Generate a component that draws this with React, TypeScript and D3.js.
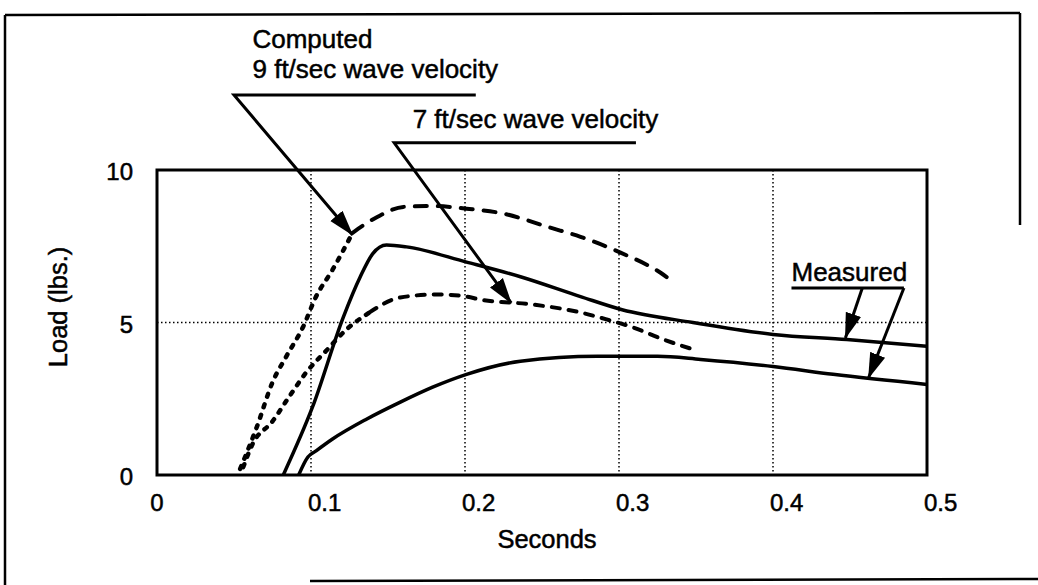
import React from "react";
import * as d3 from "d3";

// ---- data (seconds, load in lbs.) ----
const computed9T = [0.054, 0.065, 0.075, 0.084, 0.095, 0.103, 0.114, 0.127, 0.143, 0.16, 0.179, 0.201, 0.223, 0.256, 0.275, 0.301, 0.327, 0.335];
const computed9V = [0.2, 1.6, 3.04, 3.89, 4.87, 5.82, 6.73, 7.94, 8.46, 8.79, 8.82, 8.73, 8.59, 8.1, 7.81, 7.29, 6.63, 6.34];

const computed7T = [0.056, 0.062, 0.075, 0.086, 0.097, 0.11, 0.123, 0.138, 0.158, 0.182, 0.201, 0.21, 0.244, 0.275, 0.292, 0.309, 0.329, 0.348];
const computed7V = [0.26, 1.01, 1.76, 2.58, 3.37, 4.08, 4.77, 5.33, 5.82, 5.92, 5.85, 5.75, 5.59, 5.33, 5.1, 4.84, 4.44, 4.12];

const measuredUpperT = [0.082, 0.101, 0.121, 0.132, 0.14, 0.149, 0.162, 0.201, 0.236, 0.275, 0.302, 0.348, 0.4, 0.448, 0.5];
const measuredUpperV = [0, 2.23, 5.18, 6.5, 7.25, 7.54, 7.48, 6.98, 6.5, 5.85, 5.42, 5.0, 4.61, 4.44, 4.22];

const measuredLowerT = [0.092, 0.098, 0.103, 0.114, 0.136, 0.158, 0.179, 0.201, 0.236, 0.286, 0.325, 0.353, 0.4, 0.439, 0.5];
const measuredLowerV = [0, 0.59, 0.78, 1.18, 1.83, 2.39, 2.88, 3.3, 3.73, 3.89, 3.89, 3.79, 3.56, 3.3, 2.97];

const xTicks = [0, 0.1, 0.2, 0.3, 0.4, 0.5];
const xTickLabels = ["0", "0.1", "0.2", "0.3", "0.4", "0.5"];
const yTicks = [0, 5, 10];
const yTickLabels = ["0", "5", "10"];
const xGrid = [0.1, 0.2, 0.3, 0.4];
const yGrid = [5];

const xTitle = "Seconds";
const yTitle = "Load (lbs.)";
const label9a = "Computed";
const label9b = "9 ft/sec wave velocity";
const label7 = "7 ft/sec wave velocity";
const labelMeasured = "Measured";

const W = 1038;
const H = 585;
const FONT = "'Liberation Sans', Arial, Helvetica, sans-serif";

const x = d3.scaleLinear().domain([0, 0.5]).range([157, 927]);
const y = d3.scaleLinear().domain([0, 10]).range([475, 170]);

type P = [number, number];
const zip = (ts: number[], vs: number[]): P[] => ts.map((t, i) => [t, vs[i]]);

const line = d3
  .line<P>()
  .x((d) => x(d[0]))
  .y((d) => y(d[1]))
  .curve(d3.curveMonotoneX);

function splitAt(pts: P[], t: number): [P[], P[]] {
  const i = pts.findIndex((p) => p[0] >= t);
  return [pts.slice(0, i + 1), pts.slice(i)];
}

export default function App() {
  const c9 = zip(computed9T, computed9V);
  const c7 = zip(computed7T, computed7V);
  const mu = zip(measuredUpperT, measuredUpperV);
  const ml = zip(measuredLowerT, measuredLowerV);
  const [c9a, c9b] = splitAt(c9, 0.127);
  const [c7a, c7b] = splitAt(c7, 0.138);

  // annotation anchors in data units
  const leader9: P[] = [[0.207, 12.46], [0.05, 12.46], [0.127, 7.87]];
  const leader7: P[] = [[0.311, 10.89], [0.154, 10.89], [0.23, 5.64]];
  const measUnder: P[] = [[0.412, 6.13], [0.485, 6.13]];
  const measArrow1: P[] = [[0.458, 6.13], [0.447, 4.49]];
  const measArrow2: P[] = [[0.485, 6.13], [0.462, 3.18]];
  const straight = d3.line<P>().x((d) => x(d[0])).y((d) => y(d[1]));

  const [x0, x1] = x.range();
  const [yb, yt] = y.range();

  const textStroke = { stroke: "#000", strokeWidth: 0.5 };

  return (
    <svg
      width={W}
      height={H}
      style={{ position: "absolute", left: 0, top: 0, background: "#fff" }}
      fontFamily={FONT}
    >
      <defs>
        <marker
          id="arrow"
          markerUnits="userSpaceOnUse"
          markerWidth={26}
          markerHeight={18}
          viewBox="0 -9 26 18"
          refX={25}
          refY={0}
          orient="auto"
        >
          <path d="M0,-8 L26,0 L0,8 Z" fill="#000" />
        </marker>
      </defs>
      <rect x={0} y={0} width={W} height={H} fill="#fff" />

      {/* outer frame (partial, as scanned) */}
      <g stroke="#000" strokeWidth={2.5} fill="none">
        <line x1={5} y1={15} x2={1020} y2={13} />
        <line x1={5} y1={15} x2={5} y2={585} />
        <line x1={1020} y1={13} x2={1020} y2={225} />
        <line x1={310} y1={581} x2={1038} y2={579} />
      </g>

      {/* grid */}
      <g stroke="#000" strokeWidth={1.5} strokeDasharray="1.5,2.5">
        {xGrid.map((g) => (
          <line key={"gx" + g} x1={x(g)} x2={x(g)} y1={yt} y2={yb} />
        ))}
        {yGrid.map((g) => (
          <line key={"gy" + g} x1={x0} x2={x1} y1={y(g)} y2={y(g)} />
        ))}
      </g>

      {/* plot frame */}
      <rect x={x0} y={yt} width={x1 - x0} height={yb - yt} fill="none" stroke="#000" strokeWidth={3} />

      {/* curves */}
      <g fill="none" stroke="#000" strokeLinecap="round">
        <path d={line(c9a) || ""} strokeWidth={4.5} strokeDasharray="3,8" />
        <path d={line(c9b) || ""} strokeWidth={4} strokeDasharray="12,11" />
        <path d={line(c7a) || ""} strokeWidth={4.5} strokeDasharray="3,8" />
        <path d={line(c7b) || ""} strokeWidth={4} strokeDasharray="8,9" />
        <path d={line(mu) || ""} strokeWidth={3.5} strokeLinecap="butt" />
        <path d={line(ml) || ""} strokeWidth={3.5} strokeLinecap="butt" />
      </g>

      {/* annotations */}
      <g fill="none" stroke="#000" strokeWidth={3}>
        <path d={straight(leader9) || ""} markerEnd="url(#arrow)" />
        <path d={straight(leader7) || ""} markerEnd="url(#arrow)" />
        <path d={straight(measUnder) || ""} />
        <path d={straight(measArrow1) || ""} markerEnd="url(#arrow)" />
        <path d={straight(measArrow2) || ""} markerEnd="url(#arrow)" />
      </g>
      <g fontSize={26} fill="#000" {...textStroke}>
        <text x={x(0.062)} y={y(14.0)}>{label9a}</text>
        <text x={x(0.062)} y={y(13.02)}>{label9b}</text>
        <text x={x(0.166)} y={y(11.38)}>{label7}</text>
        <text x={x(0.412)} y={y(6.36)}>{labelMeasured}</text>
      </g>

      {/* tick labels */}
      <g fontSize={24} fill="#000" {...textStroke}>
        {yTicks.map((t, i) => (
          <text key={"yt" + t} x={x0 - 24} y={y(t) + 10} textAnchor="end">
            {yTickLabels[i]}
          </text>
        ))}
        {xTicks.map((t, i) => (
          <text
            key={"xt" + t}
            x={t === 0 ? x(t) : x(t) - 3}
            y={511}
            textAnchor={t === 0 ? "middle" : "start"}
          >
            {xTickLabels[i]}
          </text>
        ))}
      </g>

      {/* axis titles */}
      <text x={547} y={548} fontSize={25.5} textAnchor="middle" fill="#000" {...textStroke}>
        {xTitle}
      </text>
      <text
        transform={`translate(67,307) rotate(-90)`}
        fontSize={25.5}
        textAnchor="middle"
        fill="#000"
        {...textStroke}
      >
        {yTitle}
      </text>
    </svg>
  );
}
